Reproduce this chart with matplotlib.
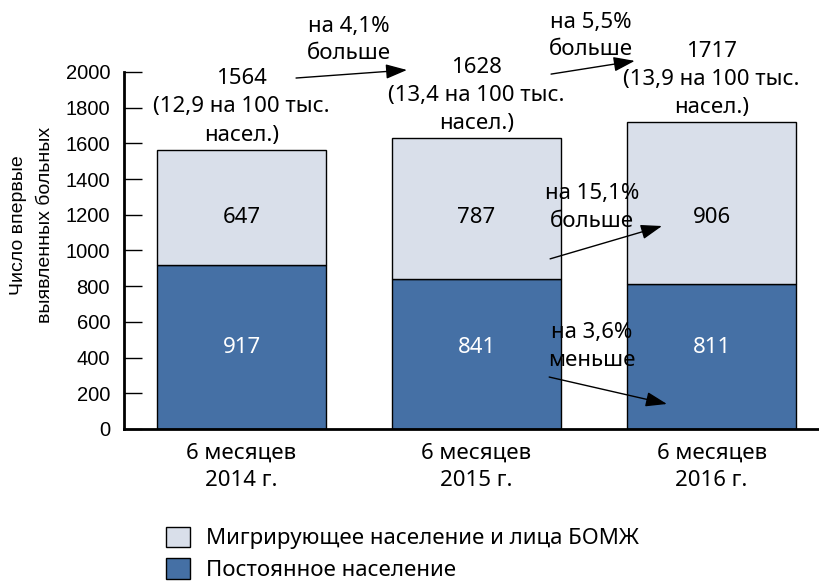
import matplotlib
matplotlib.use("Agg")
import matplotlib.pyplot as plt
from matplotlib.patches import Patch

# --- data ---------------------------------------------------------------
periods = ["6 месяцев\n2014 г.", "6 месяцев\n2015 г.", "6 месяцев\n2016 г."]
permanent = [917, 841, 811]          # Постоянное население
migrant = [647, 787, 906]            # Мигрирующее население и лица БОМЖ
rate_per_100k = [12.9, 13.4, 13.9]
y_ticks = [0, 200, 400, 600, 800, 1000, 1200, 1400, 1600, 1800, 2000]

legend_labels = ["Мигрирующее население и лица БОМЖ", "Постоянное население"]
y_label = "Число впервые\nвыявленных больных"

# --- style --------------------------------------------------------------
LIGHT = "#d9dfea"
DARK = "#4570a5"
MAIN_FONT = ["Noto Sans", "DejaVu Sans"]
AXIS_FONT = ["Liberation Sans", "DejaVu Sans"]
FS = 16


def pct(a, b):
    return f"{abs(b / a - 1) * 100:.1f}".replace(".", ",")


totals = [p + m for p, m in zip(permanent, migrant)]
x = list(range(len(periods)))

fig = plt.figure(figsize=(8.2, 5.85), dpi=100)
ax = fig.add_axes([0.1512, 0.2667, 0.8476, 0.6103])

bw = 0.72
ax.bar(x, permanent, width=bw, color=DARK, edgecolor="black", linewidth=1)
ax.bar(x, migrant, width=bw, bottom=permanent, color=LIGHT,
       edgecolor="black", linewidth=1)

ax.set_xlim(-0.5, 2.457)
ax.set_ylim(0, 2000)

for s in ("top", "right"):
    ax.spines[s].set_visible(False)
for s in ("left", "bottom"):
    ax.spines[s].set_linewidth(2)

ax.set_yticks(y_ticks)
ax.tick_params(axis="y", direction="in", length=13, width=1, pad=10)
for t in ax.get_yticklabels():
    t.set_family(AXIS_FONT)
    t.set_fontsize(14.5)

ax.set_xticks(x)
ax.set_xticklabels(periods, family=MAIN_FONT, fontsize=FS, linespacing=1.4)
ax.tick_params(axis="x", length=0, pad=10)

fig.text(0.039, (585 - 225) / 585, y_label, rotation=90, ha="center",
         va="center", family=AXIS_FONT, fontsize=14, linespacing=1.7)

# segment values
for i in x:
    ax.text(i, 459, str(permanent[i]), ha="center", va="center",
            color="white", family=MAIN_FONT, fontsize=FS)
    ax.text(i, 1182, str(migrant[i]), ha="center", va="center",
            color="black", family=MAIN_FONT, fontsize=FS)

# totals above bars
for i in x:
    rate = f"{rate_per_100k[i]:.1f}".replace(".", ",")
    ax.annotate(f"{totals[i]}\n({rate} на 100 тыс.\nнасел.)", (i, totals[i]),
                xytext=(0, 3), textcoords="offset points", ha="center",
                va="bottom", family=MAIN_FONT, fontsize=FS, linespacing=1.45,
                annotation_clip=False)

arrow_kw = dict(arrowstyle="-|>,head_length=1.3,head_width=0.45",
                mutation_scale=10, lw=1, color="black",
                shrinkA=0, shrinkB=0)


def change_arrow(tail, head, text_xy, text):
    ax.annotate("", xy=head, xytext=tail, arrowprops=arrow_kw,
                annotation_clip=False)
    ax.text(*text_xy, text, ha="center", va="center", family=MAIN_FONT,
            fontsize=FS, linespacing=1.4, clip_on=False)


change_arrow((0.232, 1966), (0.704, 2011), (0.455, 2179),
             f"на {pct(totals[0], totals[1])}%\nбольше")
change_arrow((1.317, 1988), (1.673, 2062), (1.485, 2202),
             f"на {pct(totals[1], totals[2])}%\nбольше")
change_arrow((1.313, 953), (1.789, 1137), (1.49, 1240),
             f"на {pct(migrant[1], migrant[2])}%\nбольше")
change_arrow((1.309, 291), (1.810, 140), (1.49, 462),
             f"на {pct(permanent[1], permanent[2])}%\nменьше")

handles = [Patch(facecolor=LIGHT, edgecolor="black", linewidth=1),
           Patch(facecolor=DARK, edgecolor="black", linewidth=1)]
fig.legend(handles, legend_labels, loc="upper left",
           bbox_to_anchor=(0.203, 0.1), frameon=False,
           prop={"family": MAIN_FONT, "size": FS},
           handlelength=1.05, handleheight=1.05, handletextpad=0.75,
           labelspacing=0.4, borderpad=0, borderaxespad=0)

fig.savefig("out.png", dpi=100)
